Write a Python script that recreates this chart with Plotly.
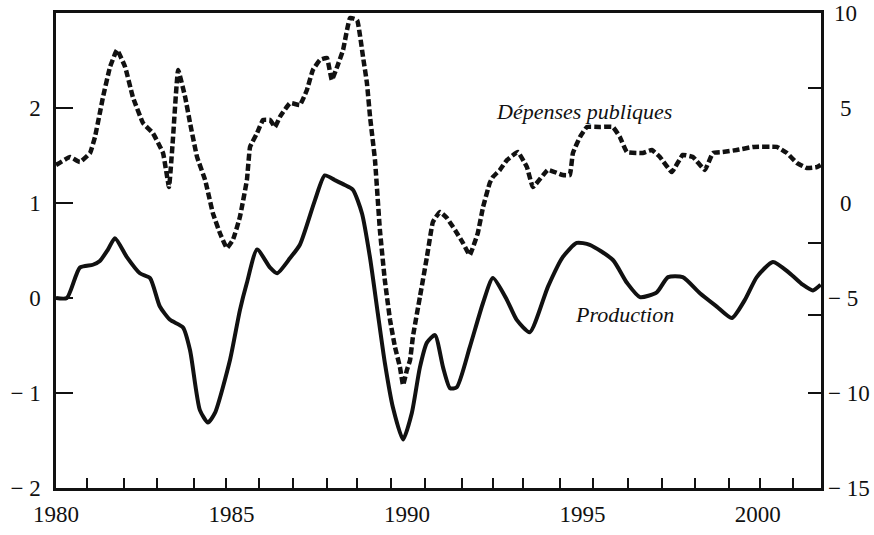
import plotly.graph_objects as go

# Production (left axis)
prod_years = [1980.00, 1980.31, 1980.68, 1981.05, 1981.25, 1981.48, 1981.68, 1982.02, 1982.39, 1982.68,
              1982.96, 1983.25, 1983.62, 1983.82, 1984.10, 1984.33, 1984.53, 1984.96, 1985.24, 1985.44,
              1985.73, 1986.10, 1986.30, 1986.67, 1986.95, 1987.38, 1987.66, 1987.95, 1988.23, 1988.46,
              1988.72, 1988.95, 1989.17, 1989.37, 1989.60, 1989.89, 1990.14, 1990.37, 1990.57, 1990.80,
              1991.03, 1991.23, 1991.42, 1991.79, 1992.17, 1992.45, 1992.85, 1993.13, 1993.50, 1994.02,
              1994.44, 1994.84, 1995.21, 1995.87, 1996.27, 1996.64, 1997.12, 1997.44, 1997.86, 1998.35,
              1998.83, 1999.26, 1999.63, 1999.97, 2000.43, 2000.91, 2001.28, 2001.57, 2001.79]
prod_values = [0.00, 0.00, 0.32, 0.35, 0.39, 0.51, 0.63, 0.43, 0.26, 0.21,
               -0.09, -0.23, -0.31, -0.55, -1.18, -1.31, -1.21, -0.65, -0.13, 0.16,
               0.51, 0.32, 0.26, 0.42, 0.56, 1.03, 1.29, 1.24, 1.19, 1.14,
               0.89, 0.42, -0.16, -0.68, -1.15, -1.49, -1.21, -0.73, -0.47, -0.39,
               -0.73, -0.95, -0.94, -0.52, -0.05, 0.21, -0.02, -0.23, -0.36, 0.12,
               0.43, 0.58, 0.56, 0.40, 0.16, 0.01, 0.06, 0.22, 0.22, 0.05,
               -0.09, -0.21, -0.02, 0.22, 0.38, 0.26, 0.14, 0.08, 0.14]

# Dépenses publiques (right axis)
dep_years = [1980.00, 1980.40, 1980.68, 1980.97, 1981.11, 1981.25, 1981.34, 1981.54, 1981.74, 1981.97,
             1982.19, 1982.48, 1982.76, 1983.05, 1983.22, 1983.33, 1983.48, 1983.68, 1983.82, 1984.02,
             1984.25, 1984.47, 1984.67, 1984.87, 1985.04, 1985.24, 1985.44, 1985.53, 1985.73, 1985.90,
             1986.10, 1986.24, 1986.38, 1986.67, 1986.95, 1987.15, 1987.32, 1987.52, 1987.72, 1987.86,
             1988.01, 1988.18, 1988.38, 1988.58, 1988.75, 1988.86, 1988.95, 1989.09, 1989.23, 1989.37,
             1989.52, 1989.66, 1989.80, 1989.89, 1990.00, 1990.09, 1990.17, 1990.37, 1990.57, 1990.74,
             1990.94, 1991.14, 1991.37, 1991.60, 1991.79, 1992.02, 1992.17, 1992.36, 1992.45, 1992.65,
             1992.85, 1993.16, 1993.42, 1993.59, 1994.02, 1994.44, 1994.64, 1994.73, 1994.93, 1995.13,
             1995.50, 1995.87, 1996.07, 1996.27, 1996.72, 1996.98, 1997.21, 1997.55, 1997.86, 1998.15,
             1998.49, 1998.72, 1999.00, 1999.40, 1999.86, 2000.54, 2000.83, 2001.11, 2001.40, 2001.68,
             2001.79]
dep_values = [2.00, 2.42, 2.16, 2.63, 3.47, 4.74, 5.58, 7.16, 8.05, 7.16,
              5.58, 4.21, 3.68, 2.63, 0.84, 3.32, 7.00, 5.58, 4.21, 2.42,
              1.21, -0.53, -1.58, -2.37, -1.95, -0.74, 1.21, 2.95, 3.68, 4.37,
              4.37, 4.00, 4.53, 5.26, 5.16, 5.95, 7.00, 7.53, 7.63, 6.47,
              7.16, 8.05, 9.74, 9.63, 7.68, 6.32, 4.53, 2.26, -1.42, -4.05,
              -6.16, -7.58, -8.63, -9.58, -8.79, -8.26, -7.05, -4.95, -2.84, -1.00,
              -0.47, -0.79, -1.42, -2.11, -2.74, -1.58, -0.21, 1.05, 1.37, 1.74,
              2.26, 2.68, 1.89, 0.84, 1.74, 1.47, 1.47, 2.63, 3.47, 4.00,
              4.00, 4.00, 3.47, 2.68, 2.63, 2.79, 2.42, 1.63, 2.53, 2.42,
              1.74, 2.63, 2.68, 2.79, 2.95, 2.95, 2.63, 2.11, 1.84, 1.89,
              2.00]

x_label_vals = [1980, 1985, 1990, 1995, 2000]
x_label_text = ["1980", "1985", "1990", "1995", "2000"]
x_tick_marks = [1980.88, 1981.94, 1982.88, 1983.93, 1984.84, 1985.78, 1986.75, 1987.72, 1988.58,
                1989.54, 1990.51, 1991.57, 1992.45, 1993.30, 1994.36, 1995.30, 1996.30, 1997.26,
                1998.20, 1999.17, 2000.06, 2001.00]
left_tick_vals = [-2, -1, 0, 1, 2]
left_tick_text = ["\u2212 2", "\u2212 1", "0", "1", "2"]
right_label_vals = [10, 5, 0, -5, -10, -15]
right_label_text = ["10", "5", "0", "\u2212 5", "\u2212 10", "\u2212 15"]
right_tick_marks = [6.05, -2.11, -5.89, -10]

FONT = "'Liberation Serif', 'Times New Roman', Times, serif"
TICK_SIZE = 23

fig = go.Figure()
# Production on the main subplot (x, left y)
fig.add_trace(go.Scatter(x=prod_years, y=prod_values, mode="lines",
                         line=dict(color="#111", width=4, shape="spline", smoothing=0.6),
                         xaxis="x", yaxis="y", showlegend=False, hoverinfo="skip"))
# Dépenses publiques on the overlay subplot (x2 carries the year tick marks, y2 the right scale)
fig.add_trace(go.Scatter(x=dep_years, y=dep_values, mode="lines",
                         line=dict(color="#111", width=4.5, dash="7px,3px", shape="spline", smoothing=0.3),
                         xaxis="x2", yaxis="y2", showlegend=False, hoverinfo="skip"))

fig.add_annotation(x=1995.04, y=1.96, xref="x", yref="y", text="<i>Dépenses publiques</i>",
                   showarrow=False, font=dict(family=FONT, size=22, color="#111"))
fig.add_annotation(x=1996.21, y=-0.17, xref="x", yref="y", text="<i>Production</i>",
                   showarrow=False, font=dict(family=FONT, size=22, color="#111"))

# right-axis labels (digits sit to the right of a hanging minus sign)
for v, t in zip(right_label_vals, right_label_text):
    if v < 0:
        shift = 5
    elif v >= 10:
        shift = 11
    else:
        shift = 17
    fig.add_annotation(x=1, xref="paper", y=v, yref="y2", text=t, showarrow=False,
                       xanchor="left", yanchor="middle", xshift=shift,
                       font=dict(family=FONT, size=TICK_SIZE, color="#111"))

xr = [1980, 2001.8]
fig.update_layout(
    width=874, height=535,
    margin=dict(l=56, r=53, t=13, b=47, autoexpand=False),
    paper_bgcolor="white", plot_bgcolor="white",
    font=dict(family=FONT, size=TICK_SIZE, color="#111"),
    xaxis=dict(range=xr, tickvals=x_label_vals, ticktext=x_label_text, ticks="",
               showline=True, linewidth=2.5, linecolor="#111", mirror=True, automargin=False,
               ticklabelstandoff=4, showgrid=False, zeroline=False),
    xaxis2=dict(range=xr, overlaying="x", anchor="y2", side="bottom", tickvals=x_tick_marks,
                ticks="inside", ticklen=10, tickwidth=2, tickcolor="#111", automargin=False,
                showticklabels=False, showline=False, showgrid=False, zeroline=False),
    yaxis=dict(range=[-2, 3], tickvals=left_tick_vals, ticktext=left_tick_text,
               ticks="inside", ticklen=17, tickwidth=2, tickcolor="#111", automargin=False,
               ticklabelstandoff=8,
               showline=True, linewidth=2.5, linecolor="#111",
               showgrid=False, zeroline=False),
    yaxis2=dict(range=[-15, 10], overlaying="y", side="right", anchor="x2",
                tickvals=right_tick_marks, ticks="inside", ticklen=13, tickwidth=2, tickcolor="#111",
                showticklabels=False, automargin=False,
                showline=True, linewidth=2.5, linecolor="#111",
                showgrid=False, zeroline=False),
)

fig.write_html("out.html", config={"displayModeBar": False},
               post_script="document.body.style.margin='0px';document.body.style.padding='0px';")
